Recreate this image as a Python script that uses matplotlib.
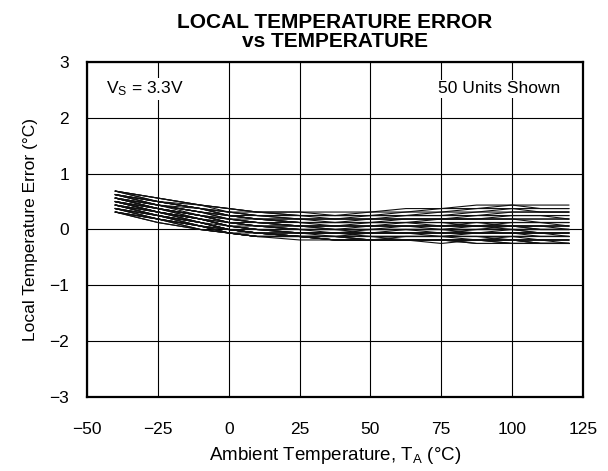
import matplotlib
matplotlib.use("Agg")
import matplotlib.pyplot as plt

plt.rcParams['font.family'] = ['Liberation Sans', 'DejaVu Sans']
plt.rcParams['mathtext.fontset'] = 'custom'
plt.rcParams['mathtext.rm'] = 'Liberation Sans'
plt.rcParams['mathtext.it'] = 'Liberation Sans'

# Measurement temperatures (deg C)
temps = [-40, -25, -10, 0, 10, 25, 37.5, 50, 62.5, 75, 87.5, 100, 110, 120]

# sensor resolution, deg C per LSB
lsb = 0.0625

# error of each of the 50 units at each temperature, in LSB
units_lsb = [
    [11, 9, 7, 6, 5, 5, 5, 5, 6, 6, 7, 7, 7, 7],
    [11, 9, 7, 6, 5, 5, 4, 5, 5, 6, 6, 7, 6, 6],
    [11, 8, 7, 6, 5, 4, 4, 4, 5, 5, 6, 6, 6, 6],
    [11, 9, 7, 5, 5, 4, 4, 4, 4, 5, 5, 6, 5, 5],
    [11, 8, 6, 5, 4, 4, 4, 4, 4, 4, 5, 5, 5, 5],
    [10, 8, 6, 5, 4, 4, 3, 4, 4, 4, 4, 5, 5, 5],
    [10, 8, 6, 5, 4, 3, 3, 3, 4, 4, 4, 4, 4, 4],
    [10, 8, 6, 4, 4, 3, 3, 3, 3, 3, 4, 4, 4, 4],
    [10, 7, 6, 4, 3, 3, 3, 3, 3, 3, 3, 4, 4, 3],
    [10, 7, 5, 4, 3, 3, 2, 3, 3, 3, 3, 3, 3, 3],
    [10, 8, 6, 4, 3, 2, 2, 2, 3, 3, 3, 3, 3, 3],
    [10, 7, 5, 4, 3, 2, 2, 2, 2, 3, 3, 3, 2, 2],
    [9, 7, 5, 4, 3, 2, 2, 2, 2, 2, 2, 2, 2, 2],
    [9, 7, 5, 3, 3, 2, 2, 2, 2, 2, 2, 2, 2, 2],
    [9, 7, 5, 3, 2, 2, 1, 2, 2, 2, 1, 2, 2, 1],
    [9, 6, 4, 3, 2, 1, 1, 1, 2, 1, 1, 1, 1, 1],
    [9, 6, 4, 3, 2, 1, 1, 1, 1, 1, 1, 1, 1, 1],
    [9, 7, 4, 3, 2, 1, 1, 1, 1, 1, 2, 1, 1, 1],
    [9, 6, 4, 2, 2, 1, 1, 1, 1, 1, 1, 1, 1, 0],
    [9, 6, 4, 2, 1, 1, 0, 1, 1, 1, 1, 1, 0, 0],
    [8, 6, 4, 2, 1, 1, 0, 0, 1, 0, 0, 1, 0, 0],
    [8, 6, 4, 2, 1, 0, 0, 0, 0, 0, 0, 0, 0, 0],
    [8, 6, 3, 2, 1, 0, 0, 0, 0, 0, 0, 0, 0, 0],
    [8, 5, 3, 2, 1, 0, 0, 0, 0, 0, 1, 0, 0, 0],
    [8, 5, 3, 1, 1, 0, 0, 0, 0, 0, 0, 0, 0, 0],
    [8, 5, 3, 1, 0, 0, 0, 0, 0, 0, 0, 0, -1, -1],
    [8, 6, 3, 1, 0, 0, -1, 0, 0, -1, 0, 0, 0, 0],
    [8, 5, 3, 1, 0, -1, -1, -1, 0, 0, -1, -1, -1, -1],
    [8, 5, 3, 1, 0, 0, 0, -1, -1, -1, -1, -1, -1, -1],
    [7, 5, 3, 1, 0, -1, -1, -1, -1, -1, -1, -1, -1, -1],
    [7, 5, 2, 1, 0, -1, -1, -1, -1, -1, -1, -1, -1, -1],
    [7, 5, 2, 0, 0, -1, -1, -1, -1, -1, -1, 0, -1, -1],
    [7, 4, 2, 0, -1, -1, -1, -1, -1, -1, -1, -1, -1, -2],
    [7, 4, 2, 0, -1, -1, -2, -1, -1, -2, -1, -1, -2, -2],
    [7, 4, 2, 0, -1, -1, -1, -2, -2, -2, -2, -2, -2, -2],
    [7, 5, 2, 0, -1, -2, -2, -2, -2, -2, -2, -2, -2, -2],
    [7, 4, 2, 0, -1, -2, -2, -2, -2, -2, -2, -2, -2, -2],
    [6, 4, 2, 0, -1, -2, -2, -2, -2, -2, -3, -2, -2, -2],
    [6, 4, 1, 0, -1, -2, -2, -2, -2, -2, -2, -3, -3, -3],
    [6, 4, 1, 0, -1, -2, -2, -3, -2, -2, -2, -2, -3, -3],
    [6, 3, 1, 0, -1, -2, -2, -2, -3, -3, -3, -3, -3, -3],
    [6, 4, 1, -1, -1, -2, -3, -3, -3, -3, -3, -3, -3, -3],
    [6, 3, 1, -1, -2, -2, -3, -3, -3, -3, -3, -3, -3, -4],
    [6, 3, 1, -1, -2, -2, -2, -3, -3, -3, -3, -3, -4, -4],
    [5, 3, 1, -1, -2, -2, -3, -3, -3, -3, -3, -4, -4, -4],
    [5, 3, 1, -1, -2, -2, -3, -3, -3, -3, -4, -4, -4, -4],
    [5, 3, 0, -1, -2, -2, -3, -3, -3, -4, -3, -3, -4, -4],
    [5, 3, 0, -1, -2, -2, -2, -3, -3, -3, -3, -4, -4, -4],
    [5, 2, 0, -1, -2, -3, -3, -3, -3, -3, -4, -4, -4, -4],
    [5, 2, 0, -1, -2, -2, -3, -3, -3, -3, -3, -3, -4, -4],
]

xticks = [-50, -25, 0, 25, 50, 75, 100, 125]
yticks = [-3, -2, -1, 0, 1, 2, 3]

fig = plt.figure(figsize=(6.08, 4.71), dpi=100)
ax = fig.add_axes([0.1431, 0.1571, 0.8158, 0.7113])

for u in units_lsb:
    ax.plot(temps, [c * lsb for c in u], color='#111111', lw=0.8)

ax.set_xlim(-50, 125)
ax.set_ylim(-3, 3)
ax.set_xticks(xticks)
ax.set_yticks(yticks)
ax.tick_params(length=0, labelsize=12.5)
ax.tick_params(axis='x', pad=18)
ax.tick_params(axis='y', pad=13)
ax.grid(True, color='black', lw=0.8)
ax.set_axisbelow(True)
for s in ax.spines.values():
    s.set_linewidth(1.6)

ax.set_xlabel('Ambient Temperature, T$_\\mathrm{A}$ (°C)', fontsize=13.5, labelpad=6)
ax.set_ylabel('Local Temperature Error (°C)', fontsize=12.5, labelpad=8)
ax.set_title('LOCAL TEMPERATURE ERROR\nvs TEMPERATURE', fontsize=15, fontweight='bold',
             linespacing=0.95, pad=11)

box = dict(facecolor='white', edgecolor='none', pad=1)
ax.text(0.038, 0.92, 'V$_\\mathrm{S}$ = 3.3V', transform=ax.transAxes, fontsize=12.5,
        ha='left', va='center', bbox=box)
ax.text(0.954, 0.92, '50 Units Shown', transform=ax.transAxes, fontsize=12.5,
        ha='right', va='center', bbox=box)

fig.savefig('out.png', dpi=100)
